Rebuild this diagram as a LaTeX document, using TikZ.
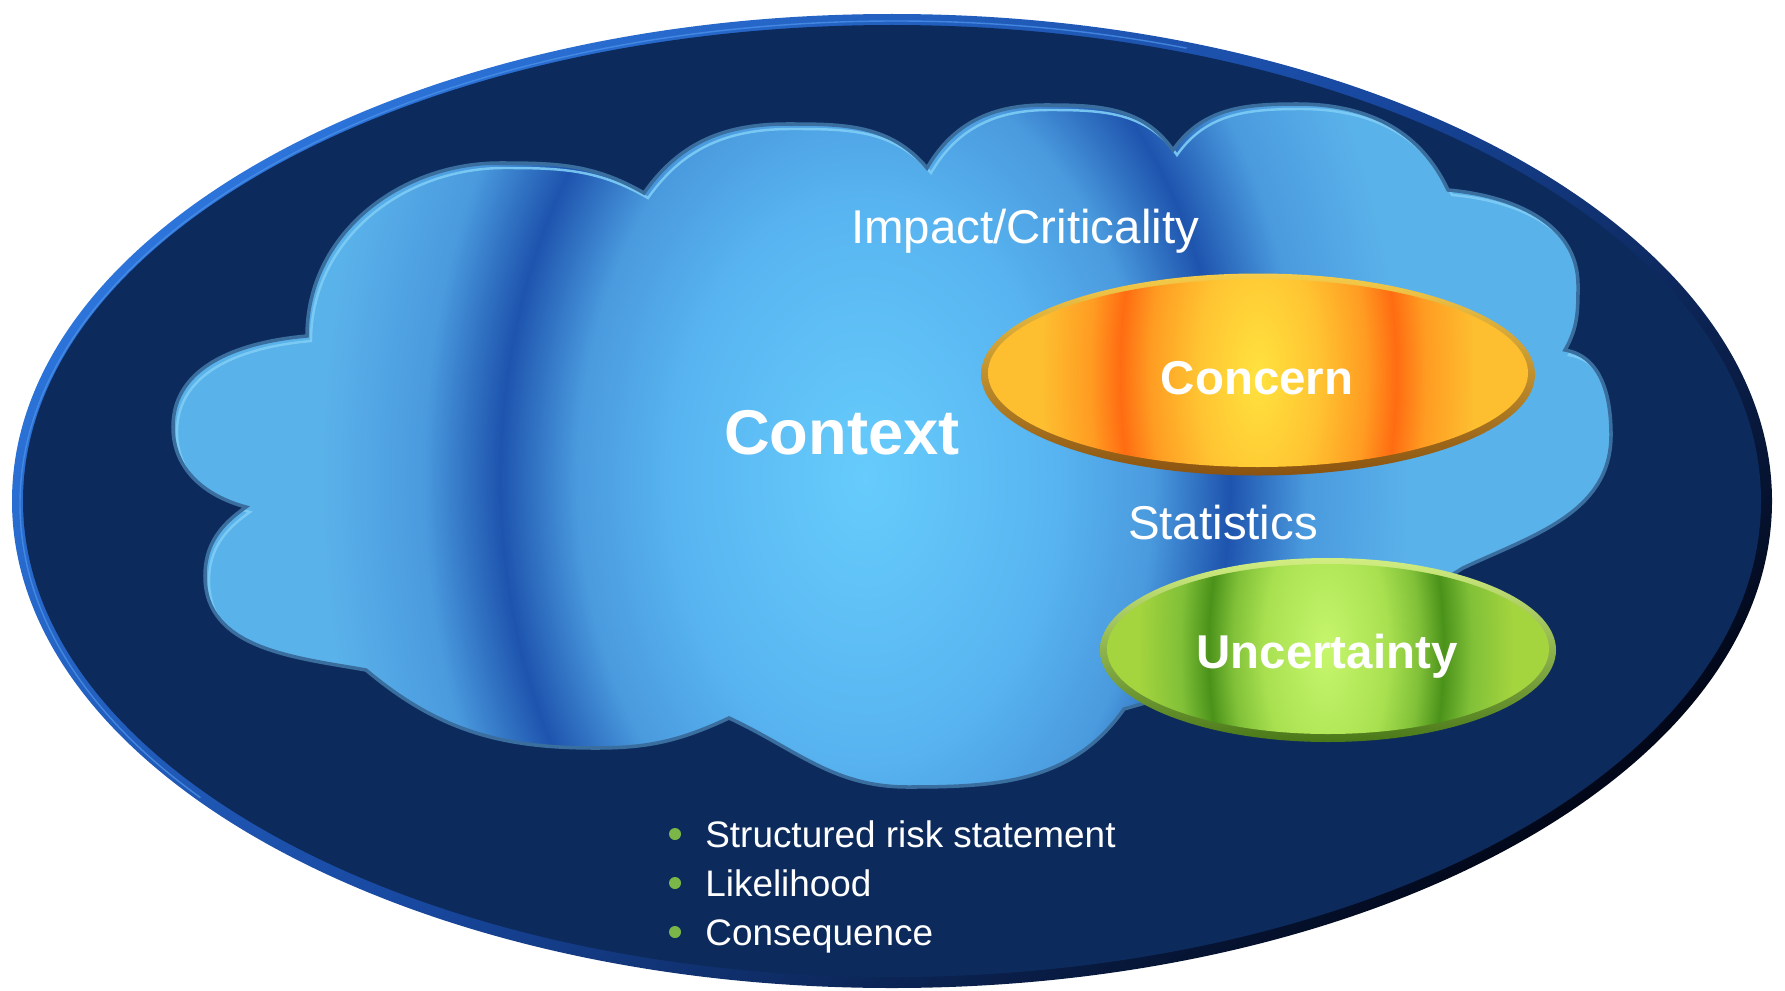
\documentclass[tikz,border=0pt]{standalone}
\usepackage{fontspec}
\setmainfont{Liberation Sans}
\definecolor{navy}{HTML}{0C2B5C}
\definecolor{rimA}{HTML}{2C74DA}
\definecolor{rimB}{HTML}{1848A0}
\definecolor{rimC}{HTML}{02081A}
\definecolor{rimHi}{HTML}{4A90E8}
\definecolor{cA}{HTML}{5AB2EA}
\definecolor{cB}{HTML}{4A9ADE}
\definecolor{cC}{HTML}{1E54AE}
\definecolor{cD}{HTML}{58B4F0}
\definecolor{cE}{HTML}{66CCFC}
\definecolor{cEdge}{HTML}{3A6E9E}
\definecolor{cHi}{HTML}{7ECDF6}
\definecolor{oA}{HTML}{FDBE30}
\definecolor{oB}{HTML}{FF6C12}
\definecolor{oC}{HTML}{FF9C22}
\definecolor{oD}{HTML}{FFE23E}
\definecolor{oE}{HTML}{FFC432}
\definecolor{orimT}{HTML}{F6CC4A}
\definecolor{orimB}{HTML}{8A5210}
\definecolor{gA}{HTML}{A4D43E}
\definecolor{gB}{HTML}{4A921A}
\definecolor{gC}{HTML}{80C038}
\definecolor{gD}{HTML}{C6F66C}
\definecolor{gE}{HTML}{A8E050}
\definecolor{grimT}{HTML}{D2EE82}
\definecolor{grimB}{HTML}{4A7818}
\definecolor{bulletgreen}{HTML}{7AB648}
\pgfdeclareradialshading{cloudsh}{\pgfpoint{0bp}{0bp}}{color(0bp)=(cE); color(6bp)=(cD); color(9bp)=(cB); color(11.4bp)=(cC); color(13.8bp)=(cB); color(17bp)=(cA); color(50bp)=(cA)}
\pgfdeclareradialshading{concsh}{\pgfpoint{0bp}{0bp}}{color(0bp)=(oD); color(5bp)=(oE); color(9bp)=(oC); color(11.5bp)=(oB); color(14bp)=(oC); color(18bp)=(oA); color(50bp)=(oA)}
\pgfdeclareradialshading{uncsh}{\pgfpoint{0bp}{0bp}}{color(0bp)=(gD); color(6bp)=(gE); color(9bp)=(gC); color(11.3bp)=(gB); color(14bp)=(gC); color(18bp)=(gA); color(50bp)=(gA)}
\newcommand{\cloudpath}{(307,-336) to[out=90,in=180] (500,-163) to[out=0,in=150] (644,-193)
 to[out=55,in=180] (787,-124) to[out=0,in=130] (927,-168)
 to[out=60,in=180] (1045,-105) to[out=0,in=125] (1173,-150)
 to[out=55,in=180] (1297,-104) to[out=0,in=115] (1448,-190)
 to[out=-5,in=90] (1578,-285) to[out=-90,in=60] (1565,-350)
 to[out=-10,in=90] (1611,-435) to[out=-90,in=25] (1463,-568)
 -- (1330,-650) -- (1124,-709)
 to[out=-125,in=0] (908,-787) to[out=180,in=-25] (729,-718)
 to[out=-155,in=0] (596,-748) to[out=180,in=-40] (366,-670)
 to[out=170,in=-90] (205,-576) to[out=90,in=-145] (246,-507)
 to[out=165,in=-90] (173,-427) to[out=90,in=-175] (307,-336) -- cycle}
\begin{document}
\begin{tikzpicture}[x=0.2mm,y=0.2mm,
  txt/.style={text=white, inner sep=0pt},
  big/.style={font=\fontsize{27}{32}\selectfont},
  bigb/.style={font=\bfseries\fontsize{27}{32}\selectfont},
  small/.style={font=\fontsize{21}{25}\selectfont}]
\useasboundingbox (0,0) rectangle (1785,-990);
\fill[white] (0,0) rectangle (1785,-990);
% outer ellipse
\shade[top color=rimA, bottom color=rimC, middle color=rimB, shading angle=40]
  (892,-501) ellipse [x radius=880, y radius=487];
\begin{scope}
  \clip (892,-501) ellipse [x radius=880, y radius=487];
  \clip (0,0) -- (1250,0) -- (0,-950) -- cycle;
  \draw[rimHi, line width=0.8pt, opacity=0.8] (896,-504) ellipse [x radius=876, y radius=483];
\end{scope}
\fill[navy] (892,-501) ellipse [x radius=869, y radius=476];
% cloud
\fill[cA] \cloudpath;
\begin{scope}
  \clip \cloudpath;
  \shade[shading=cloudsh] (865,-478) ellipse [x radius=800, y radius=1148];
  \begin{scope}[shift={(4,-5)}]
    \draw[cHi, line width=1.4pt, opacity=0.9] \cloudpath;
  \end{scope}
\end{scope}
\draw[cEdge, line width=2pt] \cloudpath;
% concern
\shade[top color=orimT, bottom color=orimB] (1258,-374.5) ellipse [x radius=277, y radius=101];
\begin{scope}
  \clip (1258,-373) ellipse [x radius=270, y radius=94];
  \shade[shading=concsh] (1258,-374) ellipse [x radius=300, y radius=650];
\end{scope}
% uncertainty
\shade[top color=grimT, bottom color=grimB] (1328,-650) ellipse [x radius=228, y radius=92];
\begin{scope}
  \clip (1328,-649) ellipse [x radius=221, y radius=85];
  \shade[shading=uncsh] (1326,-650) ellipse [x radius=260, y radius=560];
\end{scope}
% texts
\node[txt, big, anchor=base] (impact) at (1025,-243) {Impact/Criticality};
\node[txt, anchor=base, font=\bfseries\fontsize{36}{42}\selectfont] (context) at (842,-454) {Context};
\node[txt, bigb, anchor=base] (concern) at (1257,-394) {Concern};
\node[txt, big, anchor=base] (stats) at (1223,-539) {Statistics};
\node[txt, bigb, anchor=base] (unc) at (1327,-668) {Uncertainty};
\fill[bulletgreen] (675,-834) circle [radius=6];
\fill[bulletgreen] (675,-883) circle [radius=6];
\fill[bulletgreen] (675,-932) circle [radius=6];
\node[txt, small, anchor=base west] (b1) at (705,-847) {Structured risk statement};
\node[txt, small, anchor=base west] (b2) at (705,-896) {Likelihood};
\node[txt, small, anchor=base west] (b3) at (705,-945) {Consequence};
\end{tikzpicture}
\end{document}
